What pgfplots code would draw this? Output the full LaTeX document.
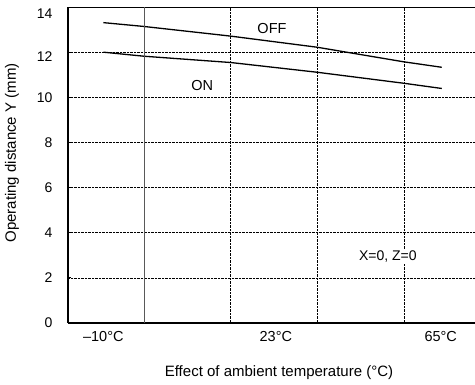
\documentclass[border=0pt]{standalone}
\usepackage{fontspec}
\setmainfont{Liberation Sans}
\usepackage{pgfplots}
\pgfplotsset{compat=1.18}
\begin{document}
\begin{tikzpicture}[x=1pt,y=1pt]
\useasboundingbox (0,0) rectangle (475,385);
\begin{axis}[
  at={(68pt,62pt)}, anchor=south west,
  scale only axis, width=407pt, height=315.7pt,
  xmin=0.124, xmax=4.815, ymin=0, ymax=14,
  axis x line*=bottom, axis y line*=left,
  x axis line style={line width=2pt, -},
  y axis line style={line width=1.4pt, -},
  xtick={0.531,2.52,4.42},
  xticklabels={–10°C,23°C,65°C},
  xtick style={draw=none},
  xticklabel style={font=\fontsize{14.5}{16}\selectfont, yshift=-5pt},
  ytick={0,2,4,6,8,10,12,14},
  yticklabels={0,2,4,6,8,10,,},
  yticklabel style={font=\fontsize{14}{16}\selectfont, xshift=-12pt},
  /pgf/number format/assume math mode=true,
  ytick style={line width=0.8pt, black},
  tick align=inside, major tick length=3pt,
  ymajorgrids, major grid style={black, densely dotted, line width=0.7pt},
  extra x ticks={1,2,3,4}, extra x tick labels={},
  extra x tick style={xmajorgrids, tick style={draw=none}},
  extra y ticks={11.8,13.72}, extra y tick labels={12,14},
  extra y tick style={ymajorgrids=false, tick style={draw=none}},
  clip=false,
]
\addplot[black, line width=1.3pt] coordinates {
 (0.531,13.32) (1,13.15) (2.003,12.72) (2.994,12.23) (3.997,11.58) (4.432,11.34)};
\addplot[black, line width=1.3pt] coordinates {
 (0.531,12.01) (1,11.83) (2.003,11.55) (2.994,11.12) (3.997,10.63) (4.432,10.40)};
\draw[line width=0.8pt] (rel axis cs:0,1) -- (rel axis cs:1,1);
\draw[gray!70!black, line width=0.7pt] (axis cs:1,0) -- (axis cs:1,14);
\node[font=\fontsize{14.5}{16}\selectfont] at (axis cs:2.475,13.07) {OFF};
\node[font=\fontsize{14.5}{16}\selectfont] at (axis cs:1.67,10.53) {ON};
\node[font=\fontsize{14}{16}\selectfont, fill=white, inner sep=1pt] at (axis cs:3.81,2.97) {X=0, Z=0};
\end{axis}
\node[font=\fontsize{15}{17}\selectfont] at (279,12) {Effect of ambient temperature (°C)};
\node[font=\fontsize{15}{17}\selectfont, rotate=90] at (12,232) {Operating distance Y (mm)};
\end{tikzpicture}
\end{document}
